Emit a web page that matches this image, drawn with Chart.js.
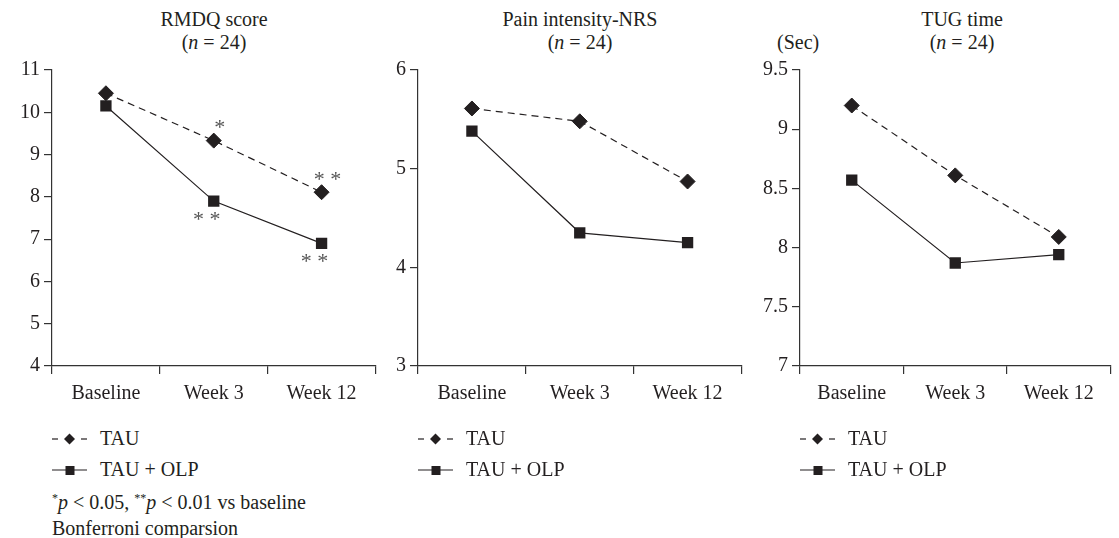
<!DOCTYPE html>
<html>
<head>
<meta charset="utf-8">
<script src="https://cdn.jsdelivr.net/npm/chart.js@4.4.1/dist/chart.umd.min.js"></script>
<style>
  body { margin: 0; background: #fff; width: 1119px; height: 538px; position: relative; overflow: hidden;
         font-family: "Liberation Serif", "Times New Roman", serif; color: #231f20; }
  canvas { position: absolute; top: 0; }
  .title { position: absolute; top: 8px; width: 324px; text-align: center; font-size: 20px; line-height: 23px; }
  .sec { position: absolute; top: 31px; font-size: 20px; line-height: 23px; }
  .legend { position: absolute; top: 423px; font-size: 20px; font-family: "Liberation Serif", "Times New Roman", serif; }
  .row { height: 31px; display: flex; align-items: center; }
  .row svg { width: 36px; height: 14px; }
  .row span { margin-left: 12px; }
  .note { position: absolute; left: 52px; top: 489px; font-size: 20px; line-height: 26px; }
  .note sup { font-size: 12px; vertical-align: 7px; line-height: 0; }
</style>
</head>
<body>

<div class="title" style="left:52px">RMDQ score<br>(<i>n</i> = 24)</div>
<div class="title" style="left:418px">Pain intensity-NRS<br>(<i>n</i> = 24)</div>
<div class="title" style="left:800px">TUG time<br>(<i>n</i> = 24)</div>
<div class="sec" style="left:777px">(Sec)</div>

<canvas id="c1" width="384" height="420" style="left:0px"></canvas>
<canvas id="c2" width="384" height="420" style="left:366px"></canvas>
<canvas id="c3" width="371" height="420" style="left:748px"></canvas>

<div class="legend" style="left:52px"></div>
<div class="legend" style="left:418px"></div>
<div class="legend" style="left:800px"></div>

<div class="note"><sup>*</sup><i>p</i> &lt; 0.05, <sup>**</sup><i>p</i> &lt; 0.01 vs baseline<br>Bonferroni comparsion</div>

<script>
// data
const categories = ['Baseline', 'Week 3', 'Week 12'];
const seriesNames = ['TAU', 'TAU + OLP'];

const rmdqTau = [10.45, 9.33, 8.11];
const rmdqOlp = [10.15, 7.90, 6.90];
const rmdqTauSig = ['', '*', '* *'];
const rmdqOlpSig = ['', '* *', '* *'];
const rmdqTicks = [4, 5, 6, 7, 8, 9, 10, 11];

const painTau = [5.61, 5.48, 4.87];
const painOlp = [5.38, 4.35, 4.25];
const painTicks = [3, 4, 5, 6];

const tugTau = [9.20, 8.61, 8.09];
const tugOlp = [8.57, 7.87, 7.94];
const tugTicks = [7, 7.5, 8, 8.5, 9, 9.5];

const ink = '#231f20';
const serif = "'Liberation Serif', 'Times New Roman', serif";
Chart.defaults.font.family = serif;
const font = { family: serif, size: 20 };

// draws the significance stars next to the points
const starPlugin = {
  id: 'stars',
  afterDatasetsDraw(chart) {
    const ctx = chart.ctx;
    ctx.save();
    ctx.fillStyle = '#555';
    ctx.font = '22px ' + serif;
    ctx.textAlign = 'center';
    ctx.textBaseline = 'middle';
    chart.data.datasets.forEach((ds, d) => {
      if (!ds.sig) return;
      const meta = chart.getDatasetMeta(d);
      ds.sig.forEach((s, i) => {
        if (!s) return;
        const p = meta.data[i];
        const dx = d === 0 ? 6 : -7;
        const dy = d === 0 ? -12 : 19;
        ctx.fillText(s, p.x + dx, p.y + dy);
      });
    });
    ctx.restore();
  }
};

function makeChart(id, tau, olp, tauSig, olpSig, yTicks, rightPad) {
  new Chart(document.getElementById(id), {
    type: 'line',
    data: {
      labels: categories,
      datasets: [{
        label: seriesNames[0],
        data: tau,
        sig: tauSig,
        borderColor: ink,
        borderWidth: 1.2,
        borderDash: [7, 5],
        pointStyle: 'rectRot',
        pointRadius: 7.5,
        pointBackgroundColor: ink,
        pointBorderColor: ink,
        pointBorderWidth: 1
      }, {
        label: seriesNames[1],
        data: olp,
        sig: olpSig,
        borderColor: ink,
        borderWidth: 1.2,
        pointStyle: 'rect',
        pointRadius: 8,
        pointBackgroundColor: ink,
        pointBorderColor: ink,
        pointBorderWidth: 0
      }]
    },
    options: {
      responsive: false,
      animation: false,
      layout: { padding: { top: 70, right: rightPad, bottom: 0, left: 0 } },
      plugins: { legend: { display: false }, title: { display: false }, tooltip: { enabled: false } },
      scales: {
        x: {
          offset: true,
          grid: { offset: true, drawOnChartArea: false, tickLength: 8, color: '#333', lineWidth: 1.2 },
          border: { color: '#333', width: 1.2 },
          ticks: { color: ink, font: font, padding: 8, maxRotation: 0 },
          afterFit(scale) { scale.height = 54; }
        },
        y: {
          min: yTicks[0],
          max: yTicks[yTicks.length - 1],
          grid: { drawOnChartArea: false, tickLength: 8, color: '#333', lineWidth: 1.2 },
          border: { color: '#333', width: 1.2 },
          ticks: { color: ink, font: font, padding: 4, callback: v => String(v) },
          afterBuildTicks(scale) { scale.ticks = yTicks.map(v => ({ value: v })); },
          afterFit(scale) { scale.width = 52; }
        }
      }
    },
    plugins: [starPlugin]
  });
}

makeChart('c1', rmdqTau, rmdqOlp, rmdqTauSig, rmdqOlpSig, rmdqTicks, 8);
makeChart('c2', painTau, painOlp, null, null, painTicks, 8);
makeChart('c3', tugTau, tugOlp, null, null, tugTicks, 4);

// legends
const icons = [
  '<svg viewBox="0 0 36 14"><line x1="0" y1="7" x2="6" y2="7" stroke="' + ink + '" stroke-width="1.2"/>' +
  '<line x1="29" y1="7" x2="35" y2="7" stroke="' + ink + '" stroke-width="1.2"/>' +
  '<polygon points="17.5,1.5 23,7 17.5,12.5 12,7" fill="' + ink + '"/></svg>',
  '<svg viewBox="0 0 36 14"><line x1="0" y1="7" x2="35" y2="7" stroke="' + ink + '" stroke-width="1.2"/>' +
  '<rect x="13.5" y="3" width="9" height="9" fill="' + ink + '"/></svg>'
];
document.querySelectorAll('.legend').forEach(el => {
  el.innerHTML = seriesNames.map((n, i) =>
    '<div class="row">' + icons[i] + '<span>' + n + '</span></div>').join('');
});
</script>
</body>
</html>
